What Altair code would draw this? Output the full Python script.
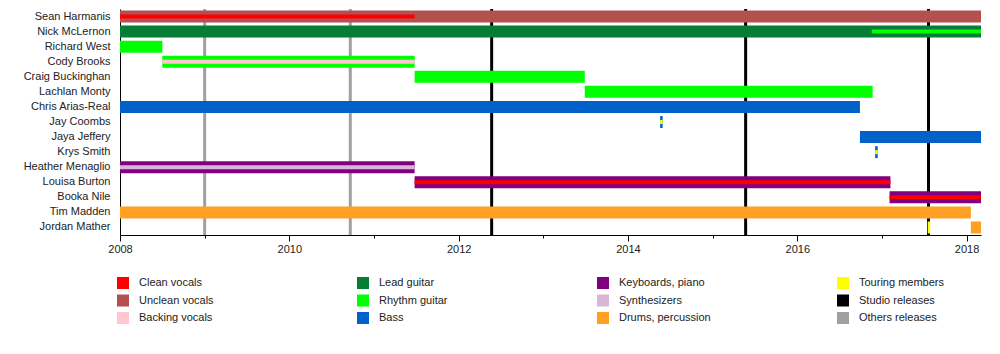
import altair as alt
import pandas as pd

END = 2018.17

members = ["Sean Harmanis", "Nick McLernon", "Richard West", "Cody Brooks",
           "Craig Buckinghan", "Lachlan Monty", "Chris Arias-Real", "Jay Coombs",
           "Jaya Jeffery", "Krys Smith", "Heather Menaglio", "Louisa Burton",
           "Booka Nile", "Tim Madden", "Jordan Mather"]

roles = ["Clean vocals", "Unclean vocals", "Backing vocals", "Lead guitar",
         "Rhythm guitar", "Bass", "Keyboards, piano", "Synthesizers",
         "Drums, percussion", "Touring members", "Studio releases", "Others releases"]
role_colors = ["#ff0000", "#b3514f", "#ffc8d0", "#067d34", "#00ff00", "#0062c8",
               "#800080", "#d8b6d8", "#ffa024", "#ffff00", "#000000", "#a0a0a0"]

# main bars
main_member = ["Sean Harmanis", "Nick McLernon", "Richard West", "Cody Brooks",
               "Craig Buckinghan", "Lachlan Monty", "Chris Arias-Real", "Jay Coombs",
               "Jaya Jeffery", "Krys Smith", "Heather Menaglio", "Louisa Burton",
               "Booka Nile", "Tim Madden", "Jordan Mather", "Jordan Mather"]
main_start = [2008, 2008, 2008, 2008.5, 2011.48, 2013.49, 2008, 2014.38,
              2016.74, 2016.92, 2008, 2011.48, 2017.09, 2008, 2018.05, 2017.54]
main_end = [END, END, 2008.5, 2011.48, 2013.49, 2016.89, 2016.74, 2014.41,
            END, 2016.95, 2011.48, 2017.1, END, 2018.05, END, 2017.57]
main_role = ["Unclean vocals", "Lead guitar", "Rhythm guitar", "Rhythm guitar",
             "Rhythm guitar", "Rhythm guitar", "Bass", "Bass", "Bass", "Bass",
             "Keyboards, piano", "Keyboards, piano", "Keyboards, piano",
             "Drums, percussion", "Drums, percussion", "Touring members"]

# thin stripes inside bars
stripe_member = ["Sean Harmanis", "Nick McLernon", "Cody Brooks", "Jay Coombs",
                 "Krys Smith", "Heather Menaglio", "Louisa Burton", "Booka Nile"]
stripe_start = [2008, 2016.88, 2008.5, 2014.38, 2016.92, 2008, 2011.48, 2017.09]
stripe_end = [2011.48, END, 2011.48, 2014.41, 2016.95, 2011.48, 2017.1, END]
stripe_role = ["Clean vocals", "Rhythm guitar", "Backing vocals", "Touring members",
               "Touring members", "Synthesizers", "Clean vocals", "Clean vocals"]

# release lines
release_date = [2009.0, 2010.72, 2012.39, 2015.39, 2017.55]
release_type = ["Others releases", "Others releases", "Studio releases",
                "Studio releases", "Studio releases"]

main_df = pd.DataFrame({"member": main_member, "start": main_start,
                        "end": main_end, "role": main_role})
stripe_df = pd.DataFrame({"member": stripe_member, "start": stripe_start,
                          "end": stripe_end, "role": stripe_role})
rel_df = pd.DataFrame({"date": release_date, "type": release_type})

xscale = alt.Scale(domain=[2008, END], nice=False, zero=False)
xaxis = alt.Axis(values=list(range(2008, 2019)), format="d",
                 labelExpr="datum.value % 2 == 0 ? datum.label : ''",
                 grid=False, title=None, tickColor="black", domainColor="black",
                 tickSize={"condition": {"test": "datum.value % 2 == 0", "value": 6},
                           "value": 3},
                 labelFontSize=11, labelPadding=2, labelColor="#222",
                 labelFlush=False)
yenc = alt.Y("member:N", sort=members,
             scale=alt.Scale(domain=members, paddingInner=0, paddingOuter=0),
             axis=alt.Axis(title=None, ticks=False, domainColor="black",
                           labelFontSize=11, labelPadding=10, labelColor="#222",
                           labelLimit=200))
color_scale = alt.Scale(domain=roles, range=role_colors)
legend = alt.Legend(values=roles, title=None, orient="none",
                    legendX=-3, legendY=268, columns=4, gridAlign="all",
                    columnPadding=126, rowPadding=5.5, symbolType="square",
                    symbolSize=144, symbolStrokeWidth=0, symbolOpacity=1,
                    labelFontSize=11, labelOffset=10, labelColor="#222",
                    labelLimit=300)

rules = alt.Chart(rel_df).mark_rule(strokeWidth=3).encode(
    x=alt.X("date:Q", scale=xscale, axis=xaxis),
    stroke=alt.Stroke("type:N",
                      scale=alt.Scale(domain=["Studio releases", "Others releases"],
                                      range=["#000000", "#a0a0a0"]),
                      legend=None),
)

bars = alt.Chart(main_df).mark_bar(height=12).encode(
    x=alt.X("start:Q", scale=xscale, axis=xaxis),
    x2="end:Q",
    y=yenc,
    color=alt.Color("role:N", scale=color_scale, legend=legend),
)

stripes = alt.Chart(stripe_df).mark_bar(height=4).encode(
    x=alt.X("start:Q", scale=xscale, axis=xaxis),
    x2="end:Q",
    y=yenc,
    color=alt.Color("role:N", scale=color_scale, legend=legend),
)

chart = alt.layer(rules, bars, stripes).properties(
    width=861, height=226,
    padding={"left": 120, "top": 9, "right": 19, "bottom": 119},
    autosize=alt.AutoSizeParams(type="none"),
).configure(font="Liberation Sans").configure_view(stroke=None)

chart.save("out.html", embed_options={"renderer": "svg", "actions": False})
